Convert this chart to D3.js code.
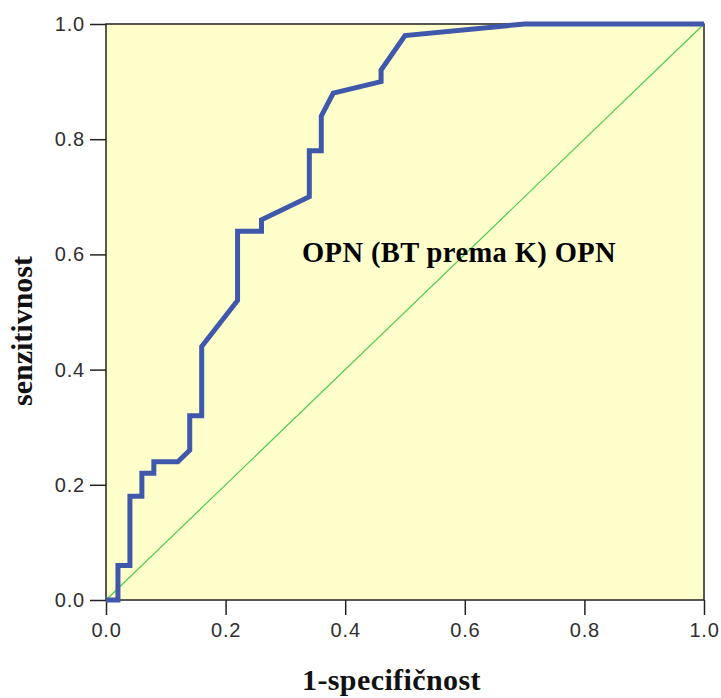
<!DOCTYPE html>
<html>
<head>
<meta charset="utf-8">
<script src="https://cdn.jsdelivr.net/npm/d3@7"></script>
<style>
  html, body { margin: 0; padding: 0; background: #ffffff; }
  svg { display: block; }
  .tick text { font-family: "Liberation Sans", Arial, sans-serif; font-size: 20px; letter-spacing: 0.8px; fill: #2f2f2f; }
  .tick line { stroke: #222222; stroke-width: 1.5px; }
</style>
</head>
<body>
<svg id="chart" width="721" height="698"></svg>
<script>
// ROC curve points: false-positive rate (1 - specificity) and sensitivity
const fpr = [0, 0.02, 0.02, 0.04, 0.04, 0.06, 0.06, 0.08, 0.08, 0.12, 0.14, 0.14, 0.16, 0.16,
             0.22, 0.22, 0.26, 0.26, 0.34, 0.34, 0.36, 0.36, 0.38, 0.46, 0.46, 0.50, 0.70, 1.0];
const tpr = [0, 0, 0.06, 0.06, 0.18, 0.18, 0.22, 0.22, 0.24, 0.24, 0.26, 0.32, 0.32, 0.44,
             0.52, 0.64, 0.64, 0.66, 0.70, 0.78, 0.78, 0.84, 0.88, 0.90, 0.92, 0.98, 1.0, 1.0];
// Reference (chance) line
const refX = [0, 1];
const refY = [0, 1];
const tickValues = [0, 0.2, 0.4, 0.6, 0.8, 1.0];

const xLabel = "1-specifičnost";
const yLabel = "senzitivnost";
const curveLabel = "OPN (BT prema K) OPN";

const svg = d3.select("#chart");
const plotLeft = 106, plotRight = 704, plotTop = 24, plotBottom = 600;

const x = d3.scaleLinear().domain([0, 1]).range([plotLeft, plotRight]);
const y = d3.scaleLinear().domain([0, 1]).range([plotBottom, plotTop]);

// plot background
svg.append("rect")
  .attr("x", plotLeft).attr("y", plotTop)
  .attr("width", plotRight - plotLeft).attr("height", plotBottom - plotTop)
  .attr("fill", "#ffffcc");

// axes
const fmt = d3.format(".1f");
const xAxis = svg.append("g")
  .attr("transform", `translate(0,${plotBottom})`)
  .call(d3.axisBottom(x).tickValues(tickValues).tickFormat(fmt).tickSize(15).tickPadding(8).tickSizeOuter(0));
xAxis.select(".domain").remove();

const yAxis = svg.append("g")
  .attr("transform", `translate(${plotLeft},0)`)
  .call(d3.axisLeft(y).tickValues(tickValues).tickFormat(fmt).tickSize(16).tickPadding(5).tickSizeOuter(0));
yAxis.select(".domain").remove();

// frame
svg.append("rect")
  .attr("x", plotLeft).attr("y", plotTop)
  .attr("width", plotRight - plotLeft).attr("height", plotBottom - plotTop)
  .attr("fill", "none")
  .attr("stroke", "#222222")
  .attr("stroke-width", 1.5);

// chance diagonal
const line = d3.line().x(d => x(d[0])).y(d => y(d[1]));
svg.append("path")
  .datum(d3.zip(refX, refY))
  .attr("d", line)
  .attr("fill", "none")
  .attr("stroke", "#4ccc4c")
  .attr("stroke-width", 1.2);

// ROC curve
svg.append("path")
  .datum(d3.zip(fpr, tpr))
  .attr("d", line)
  .attr("fill", "none")
  .attr("stroke", "#3f58ab")
  .attr("stroke-width", 5)
  .attr("stroke-linejoin", "miter")
  .attr("stroke-linecap", "butt");

// curve label
svg.append("text")
  .attr("x", 302).attr("y", 262)
  .attr("font-family", "'Liberation Serif', 'Times New Roman', serif")
  .attr("font-weight", "bold")
  .attr("font-size", 28.5)
  .attr("letter-spacing", 0.4)
  .attr("fill", "#000")
  .text(curveLabel);

// axis titles
svg.append("text")
  .attr("x", 302).attr("y", 690)
  .attr("font-family", "'Liberation Serif', 'Times New Roman', serif")
  .attr("font-weight", "bold")
  .attr("font-size", 30)
  .attr("letter-spacing", 0.4)
  .attr("fill", "#111")
  .text(xLabel);

svg.append("text")
  .attr("transform", "translate(32,331) rotate(-90)")
  .attr("text-anchor", "middle")
  .attr("font-family", "'Liberation Serif', 'Times New Roman', serif")
  .attr("font-weight", "bold")
  .attr("font-size", 30)
  .attr("fill", "#111")
  .text(yLabel);
</script>
</body>
</html>
